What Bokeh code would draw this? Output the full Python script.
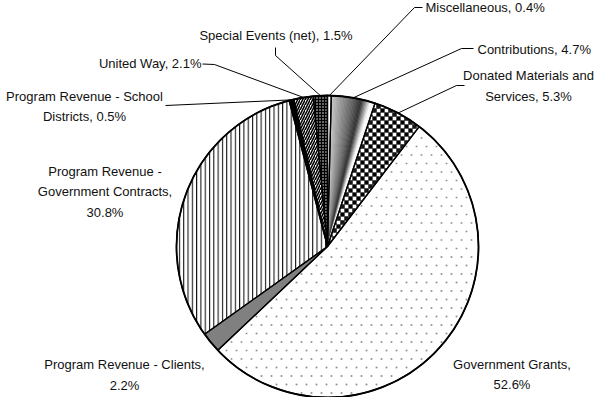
import numpy as np
from bokeh.plotting import figure
from bokeh.models import Range1d, ColumnDataSource
from bokeh.core.properties import value
from bokeh.embed import file_html
from bokeh.resources import INLINE

# ---------------- data ----------------
categories = ["Miscellaneous", "Contributions", "Donated Materials and Services",
              "Government Grants", "Program Revenue - Clients",
              "Program Revenue - Government Contracts",
              "Program Revenue - School Districts", "United Way",
              "Special Events (net)"]
percents = [0.4, 4.7, 5.3, 52.6, 2.2, 30.8, 0.5, 2.1, 1.5]
label_names = ["Miscellaneous", "Contributions", "Donated Materials and\nServices",
               "Government Grants", "Program Revenue - Clients",
               "Program Revenue -\nGovernment Contracts",
               "Program Revenue - School\nDistricts", "United Way",
               "Special Events (net)"]
label_seps = [" ", " ", " ", "\n", "\n", "\n", " ", " ", " "]

# ---------------- layout (screen px) ----------------
W, H = 595, 397
CX, CY, R = 335, 254, 151           # pie centre / radius in screen px


def X(sx):
    return sx


def Y(sy):
    return 413 - sy


# text anchor (sx, sy, align) and leader points from the label towards the pie
label_layout = [
    (433, 15, "left", [(430, 15), (422, 15)]),
    (485, 57, "left", [(481, 56), (469, 56)]),
    (536, 93.5, "center", [(472, 93), (464, 93)]),
    (519.5, 382, "center", None),
    (132, 382.5, "center", None),
    (112.5, 199.5, "center", None),
    (92, 114, "center", [(173, 113)]),
    (209, 71, "right", [(210, 71.5), (222, 72)]),
    (283.5, 43, "center", [(283, 55), (283, 63)]),
]

# ---------------- geometry from the data ----------------
vals = np.array(percents, dtype=float)
frac = vals / vals.sum()
ends = np.cumsum(frac)
starts = ends - frac
start_angle = np.pi / 2 - 2 * np.pi * starts
end_angle = np.pi / 2 - 2 * np.pi * ends
mid_angle = (start_angle + end_angle) / 2


def inside(sx, sy, i, margin=1.2):
    sx = np.asarray(sx, float)
    sy = np.asarray(sy, float)
    dx = sx - CX
    dy = CY - sy
    r = np.hypot(dx, dy)
    f = (np.arctan2(dx, dy) % (2 * np.pi)) / (2 * np.pi)
    d = margin / (2 * np.pi * np.maximum(r, 1e-6))
    return (r <= R - margin) & (f >= starts[i] + d) & (f <= ends[i] - d)


# ---------------- figure ----------------
p = figure(width=W, height=H, x_range=Range1d(8, 8 + W), y_range=Range1d(413 - 8 - H, 405),
           output_backend="svg", toolbar_location=None, min_border=0,
           x_axis_location=None, y_axis_location=None)
p.grid.visible = False
p.outline_line_color = None
p.background_fill_color = "white"
p.border_fill_color = "white"

styles = [
    dict(fill_color="white"),
    None,  # gradient: angular sub-wedges
    dict(fill_color="white"),  # checker drawn below
    dict(fill_color="white"),  # dots drawn below
    dict(fill_color="#808080"),
    dict(fill_color="white", hatch_pattern="vertical_line", hatch_scale=4.3,
         hatch_weight=1, hatch_color="black"),
    dict(fill_color="black"),
    dict(fill_color="white", hatch_pattern="right_diagonal_line", hatch_scale=5,
         hatch_weight=1.6, hatch_color="black"),
    dict(fill_color="black", hatch_pattern="dot", hatch_scale=3, hatch_weight=1, hatch_color="white"),
]

# gradient stops along screen x (style)
g_x = [0, 333, 345, 358, 366, 374, 700]
g_v = [232, 232, 164, 100, 46, 250, 255]

for i, cat in enumerate(categories):
    src = ColumnDataSource(dict(x=[X(CX)], y=[Y(CY)], s=[start_angle[i]], e=[end_angle[i]],
                                name=[cat], pct=[percents[i]]))
    st = styles[i]
    if st is None:
        n = 30
        sub = np.linspace(start_angle[i], end_angle[i], n + 1)
        for k in range(n):
            am = (sub[k] + sub[k + 1]) / 2
            rx = CX + R * 0.9 * np.cos(am)
            gv = int(np.interp(rx, g_x, g_v))
            col = "#%02x%02x%02x" % (gv, gv, gv)
            p.wedge(x=[X(CX)], y=[Y(CY)], radius=R, start_angle=sub[k], end_angle=sub[k + 1],
                    direction="clock", fill_color=col, line_color=col, line_width=0.6)
    else:
        p.wedge(x="x", y="y", radius=R, start_angle="s", end_angle="e", direction="clock",
                source=src, line_color=None, **st)

# checker texture for "Donated Materials and Services" (index 2)
SQ = 4
qx0, qx1, qy0, qy1 = [], [], [], []
for ix in range(int((CX - 5) // SQ), int((CX + R) // SQ) + 1):
    for iy in range(int((CY - R) // SQ), int(CY // SQ) + 2):
        if (ix + iy) % 2:
            continue
        x0, y0 = ix * SQ, iy * SQ
        cx = [x0, x0 + SQ, x0, x0 + SQ]
        cy = [y0, y0, y0 + SQ, y0 + SQ]
        if inside(cx, cy, 2, 0.6).all():
            qx0.append(x0); qx1.append(x0 + SQ); qy0.append(y0); qy1.append(y0 + SQ)
        else:
            for ux in range(SQ):
                for uy in range(SQ):
                    if inside(x0 + ux + 0.5, y0 + uy + 0.5, 2, 0.6):
                        qx0.append(x0 + ux); qx1.append(x0 + ux + 1)
                        qy0.append(y0 + uy); qy1.append(y0 + uy + 1)
p.quad(left=[X(v) for v in qx0], right=[X(v) for v in qx1],
       top=[Y(v) for v in qy0], bottom=[Y(v) for v in qy1],
       fill_color="black", line_color="black", line_width=0.3)

# sparse grey dots for "Government Grants" (index 3)
dxs, dys = [], []
row = 0
sy = CY - R
while sy <= CY + R:
    off = 5 if row % 2 else 0
    sx = CX - R + off
    while sx <= CX + R:
        if inside(sx, sy, 3, 2.0):
            dxs.append(X(sx)); dys.append(Y(sy))
        sx += 10
    sy += 8.5
    row += 1
p.scatter(dxs, dys, marker="square", size=1.7, fill_color="#8a8a8a", line_color=None)

# outlines
for i in range(len(categories)):
    p.wedge(x=[X(CX)], y=[Y(CY)], radius=R, start_angle=start_angle[i], end_angle=end_angle[i],
            direction="clock", line_color="black", line_width=1.3, fill_color=None)

# rim
p.circle(x=[X(CX)], y=[Y(CY)], radius=R, fill_color=None, line_color="black", line_width=1.8)

# leaders & labels
for i, (tx, ty, align, pts) in enumerate(label_layout):
    text = f"{label_names[i]},{label_seps[i]}{percents[i]:.1f}%"
    if pts is not None:
        px = CX + R * np.cos(mid_angle[i])
        py = CY - R * np.sin(mid_angle[i])
        xs = [X(a) for a, b in pts] + [X(px)]
        ys = [Y(b) for a, b in pts] + [Y(py)]
        p.line(xs, ys, line_color="black", line_width=1)
    p.text(x=[X(tx)], y=[Y(ty)], text=[text], text_align=align, text_baseline="middle",
           text_font=value("Liberation Sans"), text_font_size="13px", text_color="#111111",
           text_line_height=1.38)

open("out.html", "w").write(file_html(p, INLINE))
